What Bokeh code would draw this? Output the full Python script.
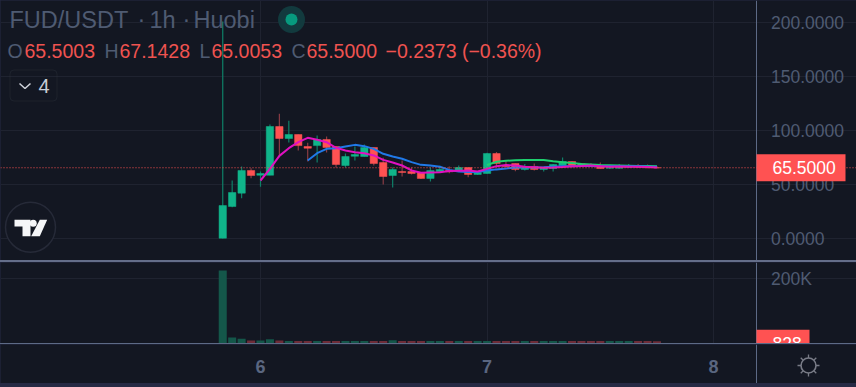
import math
from bokeh.plotting import figure
from bokeh.layouts import column
from bokeh.models import Range1d, Span, BoxAnnotation, FixedTicker, Div
from bokeh.core.properties import value
from bokeh.embed import file_html
from bokeh.resources import INLINE

# ---- data ----
bar_index = list(range(-4, 43))
opens = [0.3, 29.6, 42.0, 63.0, 58.6, 58.6, 103.7, 92.6, 96.3, 85.2, 86.0, 91.7, 85.2, 67.6, 76.2, 75.9, 84.3, 70.4, 58.3, 62.0, 62.0, 61.1, 55.6,
         62.0, 63.0, 62.0, 65.7, 59.3, 60.2, 78.7, 67.6, 69.4, 63.9, 66.7, 63.9, 64.8, 67.6, 71.3, 69.2, 68.3, 67.6, 65.0, 65.0, 66.0, 67.6, 67.0, 65.5003]
closes = [30.5, 42.6, 63.0, 58.3, 60.2, 103.7, 92.6, 96.3, 86.0, 83.6, 91.7, 84.3, 68.5, 75.9, 77.8, 84.3, 69.4, 57.4, 63.9, 61.1, 60.2, 55.6, 63.0,
          63.9, 61.8, 65.7, 59.3, 61.1, 78.7, 69.4, 66.7, 63.9, 66.7, 63.9, 65.7, 68.5, 71.3, 67.6, 66.7, 67.2, 64.8, 66.0, 67.6, 67.6, 66.0, 65.5, 65.5]
highs = [201.0, 53.7, 66.7, 65.0, 62.0, 105.5, 115.5, 109.0, 96.3, 88.6, 95.4, 94.4, 85.2, 78.7, 85.2, 87.0, 84.3, 74.7, 65.7, 72.2, 65.7, 61.5, 65.7,
         67.3, 66.7, 67.6, 65.7, 61.5, 79.5, 80.0, 72.0, 69.4, 69.0, 69.5, 66.0, 69.0, 75.0, 71.5, 69.5, 70.0, 70.4, 67.0, 69.0, 69.0, 69.0, 68.5, 67.1428]
lows = [0.0, 29.0, 37.3, 55.8, 48.0, 58.6, 75.3, 88.9, 81.5, 71.3, 70.4, 79.6, 65.7, 65.7, 72.2, 75.9, 67.6, 50.0, 47.2, 57.4, 59.3, 55.2, 52.8,
        62.0, 60.5, 62.0, 56.8, 59.0, 60.0, 65.7, 66.0, 62.3, 63.0, 63.0, 62.0, 62.0, 67.6, 66.0, 66.5, 66.5, 64.8, 64.5, 64.8, 65.5, 65.5, 65.0, 65.0053]
volumes = [224600, 18500, 14400, 9000, 9500, 13000, 9000, 7500, 8000, 7500, 7500, 7500, 7500, 7500, 7500, 7500, 7500, 7500, 10000, 7500, 7500, 7500, 7500,
           7500, 7500, 7500, 7500, 7500, 7500, 7500, 7500, 7500, 7500, 7500, 7500, 7500, 7500, 7500, 7500, 7500, 7500, 7500, 7500, 7500, 7500, 7500, 7000]

pink_index = list(range(0, 43))
ma_pink = [53.7, 64.5, 76.5, 83.6, 89.2, 93.2, 91.4, 89.2, 84.0, 81.5, 79.9, 79.0, 76.9, 72.8, 70.4, 67.6, 63.0, 60.8, 61.1, 61.4, 62.5, 62.8, 63.0,
           62.0, 64.5, 67.0, 68.0, 67.5, 66.5, 66.0, 65.5, 65.7, 66.3, 67.0, 67.2, 67.5, 67.0, 66.5, 66.7, 66.5, 66.5, 66.3, 65.8]
blue_index = list(range(5, 43))
ma_blue = [72.2, 79.0, 83.0, 83.6, 85.2, 86.7, 85.5, 83.0, 78.4, 75.9, 73.8, 70.7, 68.2, 67.5, 66.5, 63.5, 62.0, 61.5, 61.5,
           63.0, 64.0, 64.8, 65.7, 66.0, 65.8, 66.0, 66.5, 67.0, 67.0, 67.2, 67.2, 67.0, 67.0, 67.0, 67.0, 66.8, 66.6, 66.5]
green_index = list(range(24, 43))
ma_green = [68.0, 71.0, 72.0, 72.4, 72.6, 72.7, 72.7, 71.5, 70.5, 70.0, 69.0, 68.5, 68.0, 67.8, 67.6, 67.4, 67.2, 67.1, 67.0]

price_ticks = [0, 50, 100, 150, 200]
price_labels = {0: "0.0000", 50: "50.0000", 100: "100.0000", 150: "150.0000", 200: "200.0000"}
volume_ticks = [200000]
volume_labels = {200000: "200K"}
day_ticks = [0, 24, 48]
day_labels = {0: "6", 24: "7", 48: "8"}

# ---- style ----
BG = "#131722"
GRID = "#1f2330"
TXT = "#4f5b72"
AXIS = "#5d6a86"
UP = "#10b58a"
DOWN = "#ff5252"
UPW = "#0e8068"
DOWNW = "#8a3c45"
VUP = "#14574a"
VDOWN = "#6e2c38"
TEXTRED = "#ef5350"
SANS = "Liberation Sans"
TAG_H = 27
SCALE_X = 755.5

x0 = (0 - 260) / 9.44
x1 = (856 - 260) / 9.44
xr = Range1d(x0, x1)
pr_top = 238 / 1.08
pr_bot = (238 - 260) / 1.08


def px(v):
    return x0 + v / 9.44


def py(v):
    return (238 - v) / 1.08


def base(h, yr):
    f = figure(width=856, height=h, x_range=xr, y_range=yr, output_backend="svg", toolbar_location=None,
               y_axis_location="right", x_axis_location=None,
               min_border_left=0, min_border_right=0, min_border_top=0, min_border_bottom=0,
               background_fill_color=BG, border_fill_color=BG, outline_line_color=None)
    f.xgrid.ticker = FixedTicker(ticks=day_ticks)
    f.xgrid.grid_line_color = GRID
    f.ygrid.grid_line_color = GRID
    f.yaxis.fixed_location = px(SCALE_X)
    f.yaxis.axis_line_color = AXIS
    f.yaxis.major_tick_line_color = None
    f.yaxis.minor_tick_line_color = None
    f.yaxis.major_label_text_color = TXT
    f.yaxis.major_label_text_font = SANS
    f.yaxis.major_label_text_font_size = "17.5px"
    f.yaxis.major_label_standoff = 9
    # the scale area carries no grid lines
    f.quad(left=[px(SCALE_X)], right=[px(856)], bottom=[yr.start], top=[yr.end], fill_color=BG, line_color=None, level="underlay")
    return f


def tag(fig, level_value, s, right_px, per_px):
    half = TAG_H / 2 * per_px
    fig.quad(left=[px(756)], right=[px(right_px)], bottom=[level_value - half], top=[level_value + half],
             fill_color=DOWN, line_color=None, level="overlay")
    fig.text([px(772)], [level_value], text=[s], text_color="#ffffff", text_font_size="17.5px",
             text_font=value(SANS), text_baseline="middle", text_align="left", level="overlay")


# ---- price pane ----
p = base(260, Range1d(pr_bot, pr_top))
p.yaxis.ticker = FixedTicker(ticks=price_ticks)
p.yaxis.major_label_overrides = price_labels
p.ygrid.ticker = FixedTicker(ticks=price_ticks)

up = [o <= c for o, c in zip(opens, closes)]
wick_col = [UPW if u else DOWNW for u in up]
body_col = [UP if u else DOWN for u in up]
p.segment(bar_index, lows, bar_index, highs, color=wick_col, line_width=1.2)
p.vbar(bar_index, top=closes, bottom=opens, width=0.78, fill_color=body_col, line_color=body_col, line_width=0.5)

p.line(green_index, ma_green, line_color="#1fd16f", line_width=2)
p.line(blue_index, ma_blue, line_color="#2079e8", line_width=2)
p.line(pink_index, ma_pink, line_color="#e010c0", line_width=2)

p.add_layout(Span(location=closes[-1], dimension="width", line_color=DOWN, line_dash="1 2", line_width=1))


def txt(fig, x, y, s, color, size, font=SANS):
    fig.text([px(x)], [py(y)], text=[s], text_color=color, text_font_size=size, text_font=value(font),
             text_baseline="middle", text_align="left")


# status header
txt(p, 9, 19.5, "FUD/USDT", TXT, "23.5px")
txt(p, 137, 18, "·", TXT, "23.5px")
txt(p, 149, 19.5, "1h", TXT, "23.5px")
txt(p, 182, 18, "·", TXT, "23.5px")
txt(p, 193, 19.5, "Huobi", TXT, "23.5px")
p.scatter([px(291)], [py(19)], size=27, fill_color="#123a3e", line_color=None)
p.scatter([px(291)], [py(19)], size=12, fill_color="#079a7e", line_color=None)

for x, s, c in [(7, "O", TXT), (24, "65.5003", TEXTRED), (104, "H", TXT), (119, "67.1428", TEXTRED),
                (199, "L", TXT), (211, "65.0053", TEXTRED), (291, "C", TXT), (306, "65.5000", TEXTRED),
                (385, "−0.2373 (−0.36%)", TEXTRED)]:
    txt(p, x, 50, s, c, "19.5px")

# collapsed indicators button
p.add_layout(BoxAnnotation(left=px(9.5), right=px(56.5), top=py(69.5), bottom=py(100.5), fill_alpha=0,
                           line_color="#363a45", line_width=1, border_radius=4))
p.line([px(19), px(24.5), px(30)], [py(83), py(88), py(83)], line_color="#d1d4dc", line_width=1.5)
txt(p, 38, 85.5, "4", "#c8ccd6", "20px")

# logo
p.scatter([px(30)], [py(226.7)], size=50, fill_color=BG, line_color="#262a38", line_width=1.5)
p.patch([px(v) for v in (14, 30, 30, 22, 22, 14)], [py(v) for v in (219.3, 219.3, 235.7, 235.7, 226, 226)],
        fill_color="#f5f6f8", line_color=None)
p.scatter([px(32.7)], [py(222.7)], size=7, fill_color="#f5f6f8", line_color=None)
p.patch([px(v) for v in (39.3, 46.7, 39.3, 30.7)], [py(v) for v in (219.3, 219.3, 235.7, 235.7)],
        fill_color="#f5f6f8", line_color=None)

# last price tag
tag(p, closes[-1], "65.5000", 845, 1 / 1.08)

# ---- separators ----
sep1 = Div(width=856, height=2, styles={"background-color": "#646e8a"}, margin=0)
sep2 = Div(width=856, height=1, styles={"background-color": "#5d6a86"}, margin=0)

# ---- volume pane ----
v = base(81, Range1d(0, 81 / 0.325 * 1000))
v.yaxis.ticker = FixedTicker(ticks=volume_ticks)
v.yaxis.major_label_overrides = volume_labels
v.ygrid.ticker = FixedTicker(ticks=volume_ticks)
vol_col = [VUP if u else VDOWN for u in up]
v.vbar(bar_index, top=volumes, bottom=0, width=0.85, fill_color=vol_col, line_color=None)
tag(v, 828, "828", 809, 1000 / 0.325)

# ---- time axis ----
t = figure(width=856, height=39, x_range=xr, y_range=Range1d(0, 39), output_backend="svg", toolbar_location=None,
           y_axis_location="right", min_border_left=0, min_border_right=0, min_border_top=0, min_border_bottom=0,
           background_fill_color=BG, border_fill_color=BG, outline_line_color=None)
t.grid.visible = False
t.yaxis.fixed_location = px(SCALE_X)
t.yaxis.axis_line_color = AXIS
t.yaxis.major_tick_line_color = None
t.yaxis.minor_tick_line_color = None
t.yaxis.major_label_text_color = None
t.xaxis.fixed_location = 39
t.xaxis.ticker = FixedTicker(ticks=day_ticks)
t.xaxis.major_label_overrides = day_labels
t.xaxis.axis_line_color = None
t.xaxis.major_tick_line_color = None
t.xaxis.minor_tick_line_color = None
t.xaxis.major_label_text_color = "#5a6680"
t.xaxis.major_label_text_font = SANS
t.xaxis.major_label_text_font_size = "18px"
t.xaxis.major_label_text_font_style = "bold"
t.xaxis.major_label_standoff = 9

# settings gear
gear_y = 18
angles = [k * math.pi / 4 for k in range(8)]
t.scatter([px(808)], [gear_y], size=15, fill_color=None, line_color="#787b86", line_width=1.6)
t.segment([px(808 + 7.5 * math.cos(a)) for a in angles], [gear_y + 7.5 * math.sin(a) for a in angles],
          [px(808 + 11 * math.cos(a)) for a in angles], [gear_y + 11 * math.sin(a) for a in angles],
          line_color="#787b86", line_width=1.3)

layout = column(p, sep1, v, sep2, t, spacing=0)

html = file_html(layout, INLINE)
html = html.replace("<head>", "<head><style>html,body{margin:0;padding:0;background:#262a44;overflow:hidden}</style>", 1)
open("out.html", "w").write(html)
